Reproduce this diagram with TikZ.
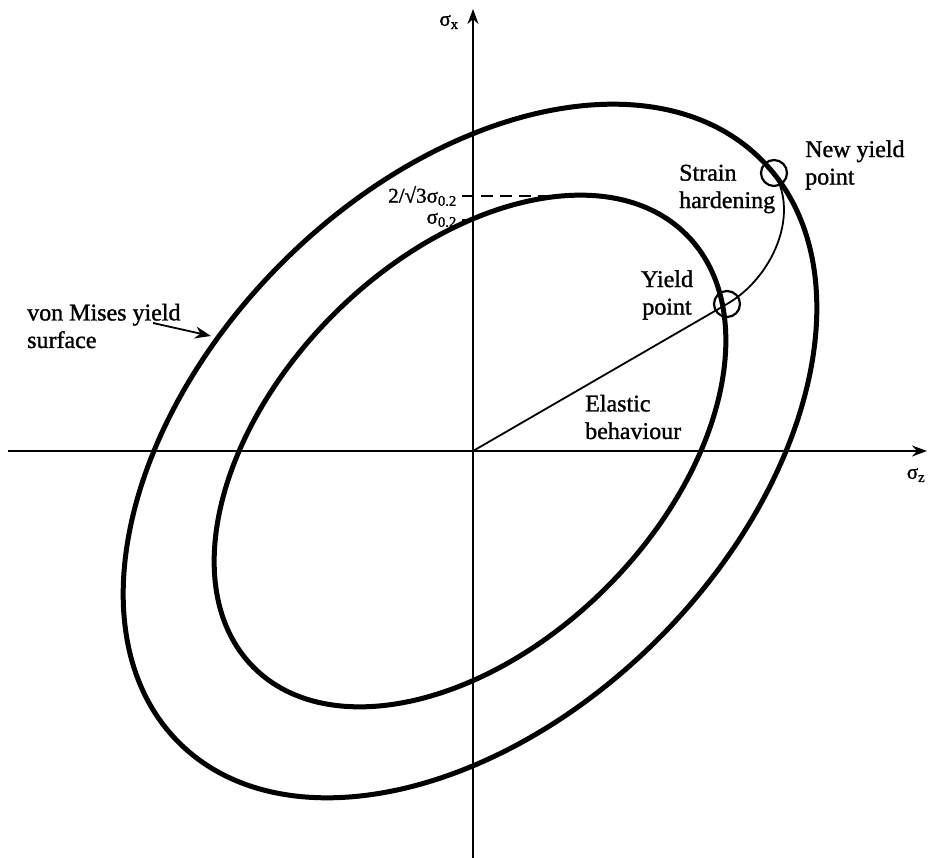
\documentclass[tikz,border=0pt]{standalone}
\usepackage{fontspec}
\setmainfont{Liberation Serif}
\newfontfamily\scanfont[FakeBold=1.2]{Liberation Serif}
\usetikzlibrary{arrows.meta}
\begin{document}
\begin{tikzpicture}[x=1pt,y=-1pt,
  lbl/.style={font=\scanfont\fontsize{24}{27.5}\selectfont, inner sep=0pt},
  slbl/.style={font=\scanfont\fontsize{21}{24}\selectfont, inner sep=0pt},
  axis/.style={line width=1.8pt, -{Stealth[length=15pt,width=11pt]}},
  surf/.style={line width=5pt},
  thinline/.style={line width=1.8pt},
  ptcircle/.style={circle, draw, line width=2.2pt, minimum size=26pt, inner sep=0pt}
]
\useasboundingbox (0,0) rectangle (928,858);
\coordinate (O) at (473,451);
\coordinate (C) at (470,451);
\coordinate (xs) at (8,451);
\coordinate (xe) at (927,451);
\coordinate (ys) at (473,858);
\coordinate (ye) at (473,9);
\draw[axis] (xs) -- (xe);
\draw[axis] (ys) -- (ye);
% yield surfaces
\draw[surf, rotate around={45:(C)}] (C) ellipse [x radius=412pt, y radius=266pt];
\draw[surf, rotate around={45:(C)}] (C) ellipse [x radius=306pt, y radius=193pt];
% points
\node[ptcircle] (yp) at (727,304) {};
\node[ptcircle] (nyp) at (774,173) {};
\draw[thinline] (O) -- (yp.center);
\draw[thinline] (yp.center) .. controls (772,278) and (800,215) .. (nyp.center);
% dashed level
\coordinate (d1) at (462,196);
\coordinate (d2) at (560,196);
\draw[thinline, dash pattern=on 12pt off 7pt] (d1) -- (d2);
\coordinate (t1) at (462,220);
\coordinate (t2) at (472,220);
\draw[thinline] (t1) -- (t2);
% labels
\node[slbl, anchor=east] (lab2) at (457,196) {2/√3σ\textsubscript{0.2}};
\node[slbl, anchor=east] (lab1) at (457,220) {σ\textsubscript{0.2}};
\node[slbl] (sx) at (449,22) {σ\textsubscript{x}};
\node[slbl] (sz) at (916,475) {σ\textsubscript{z}};
\node[lbl, anchor=west, align=left] (vm) at (27,326) {von Mises yield\\surface};
\coordinate (va) at (153,323);
\coordinate (vb) at (211,336);
\draw[thinline, -{Stealth[length=16pt,width=12pt]}] (va) -- (vb);
\node[lbl, anchor=west, align=left] (sh) at (679,189) {Strain\\hardening};
\node[lbl, anchor=west, align=left] (ny) at (805,165) {New yield\\point};
\node[lbl, align=center] (ylab) at (667,295) {Yield\\point};
\node[lbl, anchor=west, align=left] (el) at (585,417) {Elastic\\behaviour};
\end{tikzpicture}
\end{document}
